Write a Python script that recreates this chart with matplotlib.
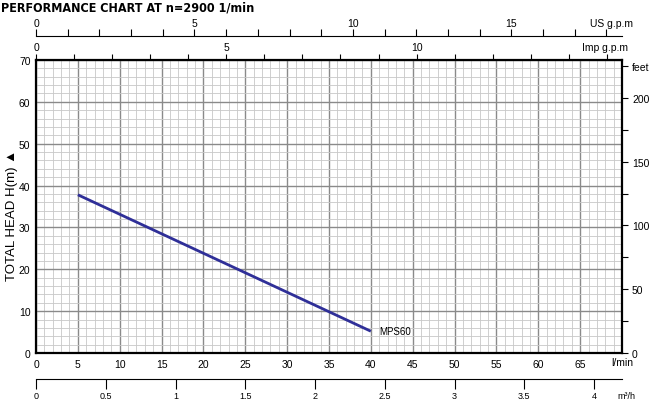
import matplotlib
matplotlib.use("Agg")
import matplotlib.pyplot as plt
from matplotlib.ticker import MultipleLocator, FixedLocator

plt.rcParams['font.family'] = ['Liberation Sans', 'DejaVu Sans']

# data
flow_lpm = [5, 40]
head_m = [37.8, 5.2]
model = "MPS60"
title = "PERFORMANCE CHART AT n=2900 1/min"

W, H = 650, 402
PT = 72 / 100  # points per pixel
fig = plt.figure(figsize=(6.5, 4.02), dpi=100)

def fx(px):
    return px / W

def fy(py):
    return 1 - py / H

L, R, T, B = 36, 622, 61, 354
ax = fig.add_axes([fx(L), fy(B), fx(R) - fx(L), fy(T) - fy(B)])
ax.set_xlim(0, 70)
ax.set_ylim(0, 70)
ax.xaxis.set_major_locator(MultipleLocator(5))
ax.xaxis.set_minor_locator(MultipleLocator(1))
ax.yaxis.set_major_locator(MultipleLocator(10))
ax.yaxis.set_minor_locator(MultipleLocator(2))
ax.grid(which='major', color='#8a8a8a', linewidth=1.0)
ax.grid(which='minor', color='#c8c8c8', linewidth=0.6)
ax.set_axisbelow(True)
for s in ax.spines.values():
    s.set_linewidth(1.6)
ax.tick_params(which='both', length=0, labelsize=7.5, pad=4)
ax.set_xticks(range(0, 70, 5))
ax.set_yticks(range(0, 71, 10))

ax.plot(flow_lpm, head_m, color='#2f2f98', linewidth=2, solid_capstyle='butt')
ax.text(flow_lpm[-1] + 1, head_m[-1], model, fontsize=7, va='center', ha='left')
fig.text(fx(633), fy(363), "l/min", fontsize=7.5, ha='right', va='center')

# right axis in feet
axf = ax.twinx()
axf.set_ylim(0, 70 * 3.28084)
axf.yaxis.set_major_locator(FixedLocator(list(range(0, 226, 25))))
flabels = []
for v in range(0, 226, 25):
    if v == 225:
        flabels.append("feet")
    elif v % 50 == 0:
        flabels.append(str(v))
    else:
        flabels.append("")
axf.set_yticklabels(flabels)
axf.tick_params(axis='y', direction='out', length=6 * PT, width=0.8,
                labelsize=7.5, pad=4 * PT)
for s in axf.spines.values():
    s.set_visible(False)

# Imp gpm on top frame
axi = ax.twiny()
axi.set_xlim(0, 70 / 4.546)
axi.xaxis.set_major_locator(FixedLocator(list(range(0, 16))))
axi.set_xticklabels([str(v) if v % 5 == 0 and v < 15 else "" for v in range(0, 16)])
axi.tick_params(axis='x', direction='out', length=6 * PT, width=0.8,
                labelsize=7.5, pad=2 * PT)
for s in axi.spines.values():
    s.set_visible(False)
fig.text(fx(628), fy(48), "Imp g.p.m", fontsize=7.5, ha='right', va='center')

# US gpm axis
axu = fig.add_axes([fx(L), fy(37), fx(R) - fx(L), 0.0001])
axu.set_xlim(0, 70 / 3.7854)
axu.set_yticks([])
for k, s in axu.spines.items():
    s.set_visible(k == 'top')
axu.spines['top'].set_linewidth(0.8)
axu.xaxis.tick_top()
axu.xaxis.set_major_locator(FixedLocator(list(range(0, 19))))
axu.set_xticklabels([str(v) if v % 5 == 0 else "" for v in range(0, 19)])
axu.tick_params(axis='x', direction='out', length=7 * PT, width=0.8,
                labelsize=7.5, pad=1 * PT)
axu.patch.set_visible(False)
fig.text(fx(633), fy(24), "US g.p.m", fontsize=7.5, ha='right', va='center')

# m3/h axis
axm = fig.add_axes([fx(L), fy(380), fx(R) - fx(L), 0.0001])
axm.set_xlim(0, 70 / 16.6667)
axm.set_yticks([])
for k, s in axm.spines.items():
    s.set_visible(k == 'bottom')
axm.spines['bottom'].set_linewidth(0.8)
axm.xaxis.set_major_locator(FixedLocator([0, 0.5, 1, 1.5, 2, 2.5, 3, 3.5, 4]))
axm.set_xticklabels(["0", "0.5", "1", "1.5", "2", "2.5", "3", "3.5", "4"])
axm.tick_params(axis='x', direction='out', length=10 * PT, width=0.8,
                labelsize=6.5, pad=2 * PT)
axm.patch.set_visible(False)
fig.text(fx(617), fy(397), "m³/h", fontsize=6.5, ha='left', va='center')

# title
fig.text(fx(1), fy(8), title, fontsize=9, fontweight='heavy', ha='left',
         va='center', family=['DejaVu Sans'], fontstretch='condensed')

# y label
fig.text(fx(12), fy(215), "TOTAL HEAD H(m) ▲", rotation=90, fontsize=9.5,
         ha='center', va='center')

fig.savefig("out.png", dpi=100)
